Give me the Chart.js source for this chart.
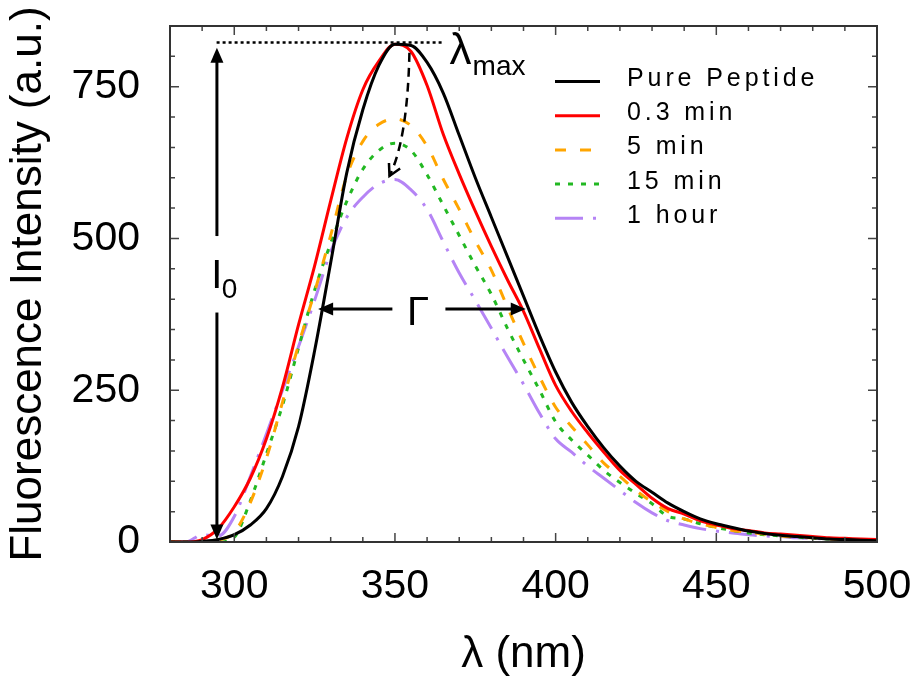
<!DOCTYPE html>
<html lang="en">

<head>
    <meta charset="UTF-8">
    <title>Fluorescence spectra</title>
    <script src="https://cdn.jsdelivr.net/npm/chart.js"></script>
    <style>
        body { margin: 0; background: #fff; }
        canvas { display: block; }
    </style>
</head>

<body>
    <canvas id="ChartFluor" width="921" height="681"></canvas>
</body>

</html>
<script>
    // wavelength grid (nm) and the intensities
    const wavelengths = [280, 285, 290, 295, 300, 305, 310, 315, 320, 325, 330, 335, 340, 345, 350, 355, 360, 365, 370, 375,
        380, 385, 390, 395, 400, 405, 410, 415, 420, 425, 430, 435, 440, 445, 450, 455, 460, 465, 470, 475,
        480, 485, 490, 495, 500];
    const purePeptide = [0, 0, 1, 4, 12, 28, 55, 108, 190, 315, 460, 608, 712, 785, 820, 818, 790, 740, 670, 600,
        535, 470, 405, 340, 280, 230, 190, 155, 125, 100, 82, 64, 50, 38, 30, 24, 18, 14, 11, 9,
        7, 5, 4, 3, 2];
    const min03 = [0, 0, 4, 22, 58, 105, 170, 255, 358, 455, 562, 665, 745, 792, 820, 808, 752, 672, 606, 545,
        487, 432, 380, 318, 258, 215, 180, 148, 118, 95, 72, 55, 46, 35, 28, 22, 19, 15, 13, 11,
        9, 7, 6, 5, 4];
    const min5 = [0, 0, 0, 3, 16, 65, 138, 230, 325, 412, 505, 603, 660, 688, 697, 686, 652, 598, 548, 496,
        448, 387, 327, 272, 222, 190, 160, 130, 108, 85, 66, 50, 38, 30, 24, 19, 16, 13, 10, 8,
        7, 5, 4, 3, 2];
    const min15 = [0, 0, 0, 0, 8, 68, 145, 225, 320, 415, 492, 561, 614, 645, 657, 645, 605, 555, 505, 455,
        408, 352, 300, 250, 198, 168, 143, 118, 98, 80, 63, 42, 38, 30, 24, 19, 15, 12, 10, 8,
        6, 5, 4, 3, 2];
    const hour1 = [0, 0, 12, 10, 42, 108, 178, 250, 322, 398, 478, 535, 568, 590, 597, 580, 548, 495, 443, 398,
        352, 305, 260, 212, 170, 148, 125, 105, 85, 65, 48, 35, 28, 22, 18, 15, 12, 10, 9, 7,
        6, 5, 4, 3, 2];

    const seriesNames = ['Pure Peptide', '0.3 min', '5 min', '15 min', '1 hour'];
    const xTicks = [300, 350, 400, 450, 500];
    const yTicks = [0, 250, 500, 750];

    const FONT = "'Liberation Sans', Arial, Helvetica, sans-serif";

    const pts = vals => wavelengths.map((w, i) => ({ x: w, y: vals[i] }));

    // ticks inside the box on all four sides + the frame
    const framePlugin = {
        id: 'frame',
        afterDraw(chart) {
            const { ctx, chartArea: a, scales: { x, y } } = chart;
            ctx.save();
            ctx.strokeStyle = '#444';
            ctx.lineWidth = 1.5;
            ctx.beginPath();
            for (let v = 280; v <= 500; v += 10) {
                const p = x.getPixelForValue(v);
                const len = v % 50 === 0 ? 9 : 5;
                ctx.moveTo(p, a.bottom); ctx.lineTo(p, a.bottom - len);
                ctx.moveTo(p, a.top); ctx.lineTo(p, a.top + len);
            }
            for (let v = 0; v <= 850; v += 50) {
                const p = y.getPixelForValue(v);
                const len = v % 250 === 0 ? 9 : 5;
                ctx.moveTo(a.left, p); ctx.lineTo(a.left + len, p);
                ctx.moveTo(a.right, p); ctx.lineTo(a.right - len, p);
            }
            ctx.stroke();
            ctx.strokeStyle = '#333';
            ctx.lineWidth = 2;
            ctx.strokeRect(a.left, a.top, a.width, a.height);
            ctx.restore();
        }
    };

    function arrowHead(ctx, x, y, ang) {
        ctx.beginPath();
        ctx.moveTo(x, y);
        ctx.lineTo(x - 15 * Math.cos(ang) + 6.5 * Math.sin(ang), y - 15 * Math.sin(ang) - 6.5 * Math.cos(ang));
        ctx.lineTo(x - 15 * Math.cos(ang) - 6.5 * Math.sin(ang), y - 15 * Math.sin(ang) + 6.5 * Math.cos(ang));
        ctx.closePath();
        ctx.fill();
    }

    function seg(ctx, x1, y1, x2, y2) {
        ctx.beginPath();
        ctx.moveTo(x1, y1);
        ctx.lineTo(x2, y2);
        ctx.stroke();
    }

    // lambda max, I0, Gamma and the shift arrow, placed in data units
    const annotationPlugin = {
        id: 'annotations',
        afterDatasetsDraw(chart) {
            const { ctx, scales: { x, y } } = chart;
            const px = v => x.getPixelForValue(v);
            const py = v => y.getPixelForValue(v);
            ctx.save();
            ctx.strokeStyle = '#000';
            ctx.fillStyle = '#000';

            // dotted line at the maximum
            ctx.lineWidth = 2.5;
            ctx.setLineDash([3, 3]);
            seg(ctx, px(294.5), py(823), px(365.4), py(823));
            ctx.setLineDash([]);

            // lambda max
            ctx.textAlign = 'left';
            ctx.textBaseline = 'alphabetic';
            ctx.font = `44px ${FONT}`;
            const lx = px(367);
            ctx.fillText('λ', lx, py(788));
            const lw = ctx.measureText('λ').width;
            ctx.font = `28px ${FONT}`;
            ctx.fillText('max', lx + lw + 1, py(770));

            // I0 double arrow
            ctx.lineWidth = 3;
            const ix = px(294.6);
            seg(ctx, ix, py(504), ix, py(814) + 12);
            arrowHead(ctx, ix, py(814), -Math.PI / 2);
            seg(ctx, ix, py(378), ix, py(4) - 12);
            arrowHead(ctx, ix, py(4), Math.PI / 2);
            ctx.textAlign = 'center';
            ctx.font = `40px ${FONT}`;
            ctx.fillText('I', ix, py(418));
            ctx.textAlign = 'left';
            ctx.font = `28px ${FONT}`;
            ctx.fillText('0', px(296.1), py(402));

            // Gamma double arrow
            const gy = py(384);
            seg(ctx, px(349.2), gy, px(326.1) + 12, gy);
            arrowHead(ctx, px(326.1), gy, Math.PI);
            seg(ctx, px(365.7), gy, px(390.7) - 12, gy);
            arrowHead(ctx, px(390.7), gy, 0);
            ctx.textAlign = 'center';
            ctx.font = `40px ${FONT}`;
            ctx.fillText('Γ', px(357.2), py(358));

            // dashed curved arrow, peak dropping with time
            const sx = px(354.5), sy = py(806);
            const cx = px(353.9), cy = py(663);
            const ex = px(348.3), ey = py(603);
            ctx.lineWidth = 2.5;
            ctx.setLineDash([9, 6]);
            ctx.beginPath();
            ctx.moveTo(sx, sy);
            ctx.quadraticCurveTo(cx, cy, ex, ey);
            ctx.stroke();
            ctx.setLineDash([]);
            const ang = Math.atan2(ey - cy, ex - cx);
            ctx.beginPath();
            ctx.moveTo(ex - 13 * Math.cos(ang - 0.5), ey - 13 * Math.sin(ang - 0.5));
            ctx.lineTo(ex, ey);
            ctx.lineTo(ex - 13 * Math.cos(ang + 0.5), ey - 13 * Math.sin(ang + 0.5));
            ctx.stroke();
            ctx.restore();
        }
    };

    // legend inside the plot, with the wide letter spacing of the original
    const legendPlugin = {
        id: 'insideLegend',
        afterDraw(chart) {
            const { ctx, chartArea: a } = chart;
            ctx.save();
            ctx.font = `25px ${FONT}`;
            ctx.letterSpacing = '3.9px';
            ctx.fillStyle = '#000';
            ctx.textAlign = 'left';
            ctx.textBaseline = 'alphabetic';
            chart.data.datasets.forEach((ds, i) => {
                const base = a.top + 60 + i * 34.2;
                ctx.strokeStyle = ds.borderColor;
                ctx.lineWidth = 3;
                ctx.setLineDash(ds.borderDash || []);
                seg(ctx, a.left + 385, base - 4.5, a.left + 430, base - 4.5);
                ctx.fillText(ds.label, a.left + 457, base);
            });
            ctx.restore();
        }
    };

    const data1 = {
        datasets: [
            { label: seriesNames[0], data: pts(purePeptide), borderColor: '#000000', borderDash: [] },
            { label: seriesNames[1], data: pts(min03), borderColor: '#ff0000', borderDash: [] },
            { label: seriesNames[2], data: pts(min5), borderColor: '#ffa500', borderDash: [11, 14] },
            { label: seriesNames[3], data: pts(min15), borderColor: '#22b822', borderDash: [5, 8] },
            { label: seriesNames[4], data: pts(hour1), borderColor: '#b584f5', borderDash: [28, 10, 3, 10] }
        ].map(ds => Object.assign(ds, {
            borderWidth: 3,
            pointRadius: 0,
            fill: false,
            cubicInterpolationMode: 'monotone'
        }))
    };

    const config1 = {
        type: 'line',
        data: data1,
        options: {
            responsive: false,
            animation: false,
            devicePixelRatio: 1,
            layout: { padding: { top: 26, right: 44, left: 0, bottom: 0 } },
            plugins: {
                legend: { display: false },
                tooltip: { enabled: false }
            },
            scales: {
                x: {
                    type: 'linear',
                    min: 280,
                    max: 500,
                    afterBuildTicks: s => { s.ticks = xTicks.map(v => ({ value: v })); },
                    afterFit: s => { s.height = 139; s.paddingLeft = 0; s.paddingRight = 0; },
                    grid: { display: false, drawTicks: false },
                    border: { display: false },
                    ticks: {
                        padding: 20,
                        color: '#000',
                        maxRotation: 0,
                        font: { family: FONT, size: 41 }
                    },
                    title: {
                        display: true,
                        text: 'λ (nm)',
                        color: '#000',
                        padding: { top: 0, bottom: 0 },
                        font: { family: FONT, size: 44 }
                    }
                },
                y: {
                    min: 0,
                    max: 850,
                    afterBuildTicks: s => { s.ticks = yTicks.map(v => ({ value: v })); },
                    afterFit: s => { s.width = 170; s.paddingTop = 0; s.paddingBottom = 0; },
                    grid: { display: false, drawTicks: false },
                    border: { display: false },
                    ticks: {
                        padding: 30,
                        color: '#000',
                        font: { family: FONT, size: 41 }
                    },
                    title: {
                        display: true,
                        text: 'Fluorescence Intensity (a.u.)',
                        color: '#000',
                        padding: { top: 2, bottom: 0 },
                        font: { family: FONT, size: 44 }
                    }
                }
            }
        },
        plugins: [annotationPlugin, framePlugin, legendPlugin]
    };

    const myChart = new Chart(
        document.getElementById('ChartFluor'),
        config1
    );
</script>
